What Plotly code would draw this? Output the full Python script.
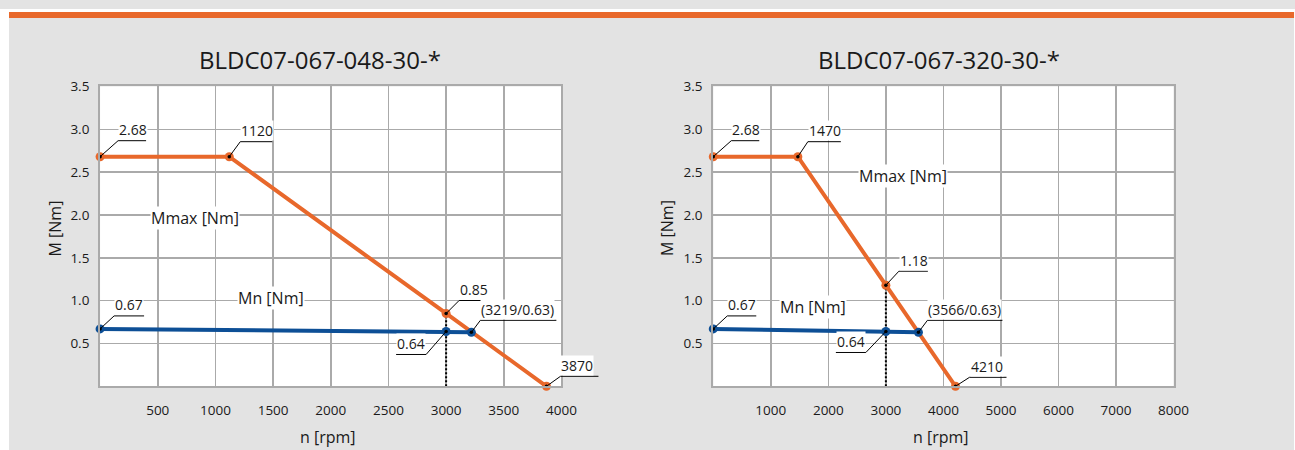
import plotly.graph_objects as go

# ---------------- data ----------------
title1 = "BLDC07-067-048-30-*"
title2 = "BLDC07-067-320-30-*"

mmax1_n = [0, 1120, 3000, 3870]
mmax1_m = [2.68, 2.68, 0.85, 0.0]
mn1_n = [0, 3000, 3219]
mn1_m = [0.67, 0.64, 0.63]
ref1_n = 3000
ref1_top = 0.85

mmax2_n = [0, 1470, 3000, 4210]
mmax2_m = [2.68, 2.68, 1.18, 0.0]
mn2_n = [0, 3000, 3566]
mn2_m = [0.67, 0.64, 0.63]
ref2_n = 3000
ref2_top = 1.18

labels1_text = ["2.68", "1120", "0.85", "0.67", "0.64", "(3219/0.63)", "3870"]
labels1_n = [0, 1120, 3000, 0, 3000, 3219, 3870]
labels1_m = [2.68, 2.68, 0.85, 0.67, 0.64, 0.63, 0.0]

labels2_text = ["2.68", "1470", "1.18", "0.67", "0.64", "(3566/0.63)", "4210"]
labels2_n = [0, 1470, 3000, 0, 3000, 3566, 4210]
labels2_m = [2.68, 2.68, 1.18, 0.67, 0.64, 0.63, 0.0]

x_ticks1 = [500, 1000, 1500, 2000, 2500, 3000, 3500, 4000]
x_ticks2 = [1000, 2000, 3000, 4000, 5000, 6000, 7000, 8000]
y_ticks = [0.5, 1.0, 1.5, 2.0, 2.5, 3.0, 3.5]

# ---------------- style ----------------
# layout is designed in target-picture pixels and mapped to page pixels
S = 0.987      # picture px per page px
OY = 6.0       # picture offset at the top
W, H = 1312, 450
FONT = "Open Sans"
ORANGE = "#e8682b"
BLUE = "#0d4f96"
GRID = "#aaaaaa"
BG = "#e3e3e3"
TXT = "#1a1a1a"
XR1 = [0, 4000]
XR2 = [0, 8000]
YR = [0, 3.5]


def fx(v):  # picture x -> paper fraction
    return (v / S) / W


def fy(v):  # picture y -> paper fraction
    return 1 - ((v - OY) / S) / H


# leader offsets (dx, dy, horizontal length) in pixels
lead1 = [(18, 16, 28), (11, 15, 32), (13, 13, 28), (14, 13, 30), (-20, -23, -30), (9, 12, 76), (14, 10, 38)]
lead2 = [(18, 16, 28), (10, 15, 33), (13, 14, 29), (14, 13, 29), (-20, -21, -30), (9, 12, 75), (14, 9, 37)]

fig = go.Figure()


def add_chart(xa, ya, mmax_n, mmax_m, mn_n, mn_m, ref_n, ref_top):
    fig.add_trace(go.Scatter(x=[ref_n, ref_n], y=[0, ref_top], mode="lines",
                             line=dict(color="black", width=2, dash="2px,2px"),
                             xaxis=xa, yaxis=ya, showlegend=False, hoverinfo="skip"))
    fig.add_trace(go.Scatter(x=mmax_n, y=mmax_m, mode="lines+markers",
                             line=dict(color=ORANGE, width=4),
                             marker=dict(color=ORANGE, size=9),
                             cliponaxis=False, xaxis=xa, yaxis=ya, showlegend=False))
    fig.add_trace(go.Scatter(x=mn_n, y=mn_m, mode="lines+markers",
                             line=dict(color=BLUE, width=4),
                             marker=dict(color=BLUE, size=9),
                             cliponaxis=False, xaxis=xa, yaxis=ya, showlegend=False))
    fig.add_trace(go.Scatter(x=mmax_n + mn_n, y=mmax_m + mn_m, mode="markers",
                             marker=dict(color="black", size=3.5),
                             cliponaxis=False, xaxis=xa, yaxis=ya, showlegend=False))


add_chart("x", "y", mmax1_n, mmax1_m, mn1_n, mn1_m, ref1_n, ref1_top)
add_chart("x2", "y2", mmax2_n, mmax2_m, mn2_n, mn2_m, ref2_n, ref2_top)

shapes = [
    dict(type="rect", xref="paper", yref="paper", x0=0, x1=1, y0=fy(9), y1=1,
         fillcolor="white", line=dict(width=0), layer="below"),
    dict(type="rect", xref="paper", yref="paper", x0=0, x1=fx(9), y0=0, y1=1,
         fillcolor="white", line=dict(width=0), layer="below"),
    dict(type="rect", xref="paper", yref="paper", x0=fx(1293), x1=1, y0=0, y1=1,
         fillcolor="white", line=dict(width=0), layer="below"),
    dict(type="rect", xref="paper", yref="paper", x0=fx(9), x1=fx(1293), y0=fy(15), y1=fy(9),
         fillcolor=ORANGE, line=dict(width=0), layer="below"),
]
annotations = []


def add_labels(xa, ya, xr, texts, ns, ms, leads):
    for t, n, m, (dx, dy, ln) in zip(texts, ns, ms, leads):
        frac = (n - xr[0]) / (xr[1] - xr[0])
        shapes.append(dict(type="path", xref=xa + " domain", yref=ya,
                           xsizemode="pixel", ysizemode="pixel", xanchor=frac, yanchor=m,
                           path=f"M0,0 L{dx},{dy} L{dx + ln},{dy}",
                           line=dict(color="black", width=1), layer="above"))
        annotations.append(dict(x=n, y=m, xref=xa, yref=ya, text=t, showarrow=False,
                                xanchor="left" if ln > 0 else "right", yanchor="bottom",
                                xshift=dx, yshift=dy + 0.5, bgcolor="white", borderpad=0,
                                font=dict(family=FONT, size=14, color=TXT)))


add_labels("x", "y", XR1, labels1_text, labels1_n, labels1_m, lead1)
add_labels("x2", "y2", XR2, labels2_text, labels2_n, labels2_m, lead2)

series_lbl = [("x", "y", 820, 1.97, "Mmax [Nm]"), ("x", "y", 1484, 1.03, "Mn [Nm]"),
              ("x2", "y2", 3293, 2.46, "Mmax [Nm]"), ("x2", "y2", 1727, 0.92, "Mn [Nm]")]
for xa, ya, xv, yv, t in series_lbl:
    annotations.append(dict(x=xv, y=yv, xref=xa, yref=ya, text=t, showarrow=False,
                            bgcolor="white", borderpad=0,
                            font=dict(family=FONT, size=16, color=TXT)))

for xc, t in [(320, title1), (938, title2)]:
    annotations.append(dict(x=fx(xc), y=fy(57), xref="paper", yref="paper", text=t,
                            showarrow=False, xanchor="center", yanchor="middle",
                            font=dict(family=FONT, size=24, color=TXT)))
for xc in [328, 940]:
    annotations.append(dict(x=fx(xc), y=fy(437), xref="paper", yref="paper", text="n [rpm]",
                            showarrow=False, xanchor="center", yanchor="middle",
                            font=dict(family=FONT, size=16, color=TXT)))
for xc in [55, 667]:
    annotations.append(dict(x=fx(xc), y=fy(227), xref="paper", yref="paper", text="M [Nm]",
                            showarrow=False, textangle=-90, xanchor="center", yanchor="middle",
                            font=dict(family=FONT, size=16, color=TXT)))

axis_common = dict(showgrid=True, gridcolor=GRID, gridwidth=1.5, zeroline=False,
                   showline=True, linecolor=GRID, linewidth=2, mirror=True,
                   ticks="outside", tickcolor="rgba(0,0,0,0)",
                   tickfont=dict(family=FONT, size=13.5, color=TXT), fixedrange=True)

ydom = [fy(386), fy(84)]
fig.update_layout(
    width=W, height=H, margin=dict(l=0, r=0, t=0, b=0),
    paper_bgcolor=BG, plot_bgcolor="white", showlegend=False,
    xaxis=dict(domain=[fx(100), fx(561)], range=XR1, tickvals=x_ticks1, ticklen=10, anchor="y", **axis_common),
    yaxis=dict(domain=ydom, range=YR, tickvals=y_ticks, ticklen=6, tickformat=".1f", anchor="x", **axis_common),
    xaxis2=dict(domain=[fx(712.7), fx(1172.6)], range=XR2, tickvals=x_ticks2, ticklen=10, anchor="y2", **axis_common),
    yaxis2=dict(domain=ydom, range=YR, tickvals=y_ticks, ticklen=6, tickformat=".1f", anchor="x2", **axis_common),
    shapes=shapes, annotations=annotations,
)

pin_js = (
    "document.documentElement.style.overflow='hidden';"
    "document.body.style.margin='0';document.body.style.overflow='hidden';"
    "var d=document.getElementById('{plot_id}');"
    "d.style.position='fixed';d.style.left='0px';d.style.top='0px';"
)

fig.write_html(
    "out.html",
    config={"displayModeBar": False, "staticPlot": True},
    post_script=pin_js,
)
